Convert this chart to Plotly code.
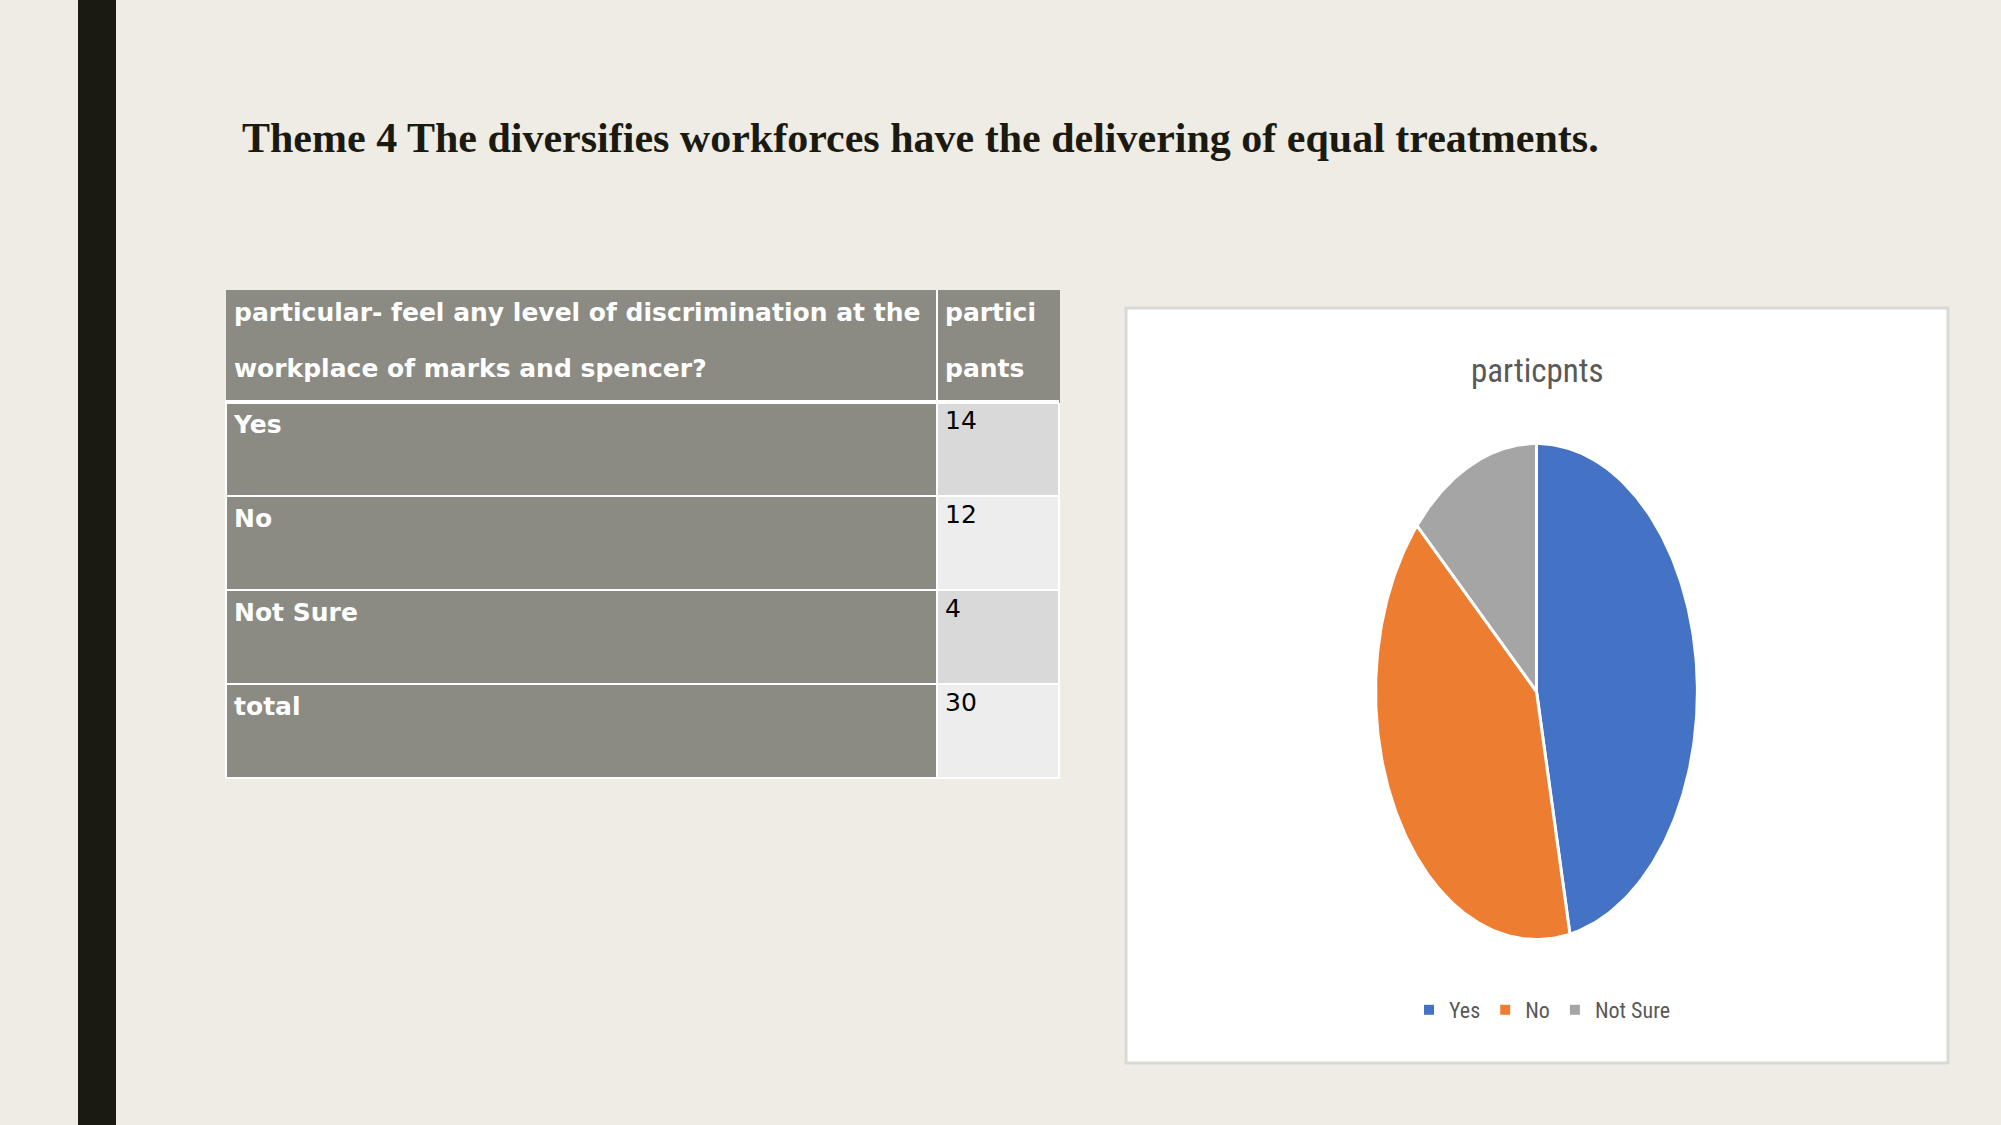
import numpy as np
import plotly.graph_objects as go

# ---- data ----
title_text = "Theme 4 The diversifies workforces have the delivering of equal treatments."
header_question = ["particular- feel any level of discrimination at the", "workplace of marks and spencer?"]
header_count = ["partici", "pants"]
row_labels = ["Yes", "No", "Not Sure", "total"]
row_values = [14, 12, 4, 30]
pie_labels = ["Yes", "No", "Not Sure"]
pie_values = [14, 12, 4]
pie_colors = ["#4472C4", "#ED7D31", "#A5A5A5"]
pie_title = "particpnts"

W, H = 2001, 1125
BG = "#EFECE5"
GRAY = "#8B8B84"

fig = go.Figure()

# ---- table ----
fig.add_trace(go.Table(
    domain=dict(x=[226 / W, 1059 / W], y=[1 - 784 / H, 1 - 290 / H]),
    columnwidth=[711, 122],
    header=dict(
        values=[[f"<b>{t}</b>" for t in header_question], [f"<b>{t}</b>" for t in header_count]],
        fill_color=GRAY,
        line=dict(color=GRAY, width=1),
        align="left",
        height=56,
        font=dict(family="DejaVu Sans", size=25, color="white"),
    ),
    cells=dict(
        values=[[f"<b>{r}</b>" for r in row_labels], [str(v) for v in row_values]],
        fill_color=[[GRAY] * 4, ["#D9D9D9", "#EDEDED", "#D9D9D9", "#EDEDED"]],
        line=dict(color="white", width=2),
        align="left",
        height=94,
        font=dict(family="DejaVu Sans", size=25, color=[["white"] * 4, ["black"] * 4]),
    ),
))

# ---- elliptical pie drawn on stretched axes ----
total = sum(pie_values)
bounds = np.concatenate([[0], np.cumsum(pie_values)]) / total * 2 * np.pi
for i, (lab, col) in enumerate(zip(pie_labels, pie_colors)):
    t = np.linspace(bounds[i], bounds[i + 1], 160)
    xs = np.concatenate([[0], np.sin(t), [0]])
    ys = np.concatenate([[0], np.cos(t), [0]])
    fig.add_trace(go.Scatter(
        x=xs, y=ys, mode="lines", fill="toself", fillcolor=col,
        line=dict(color="white", width=3), hoverinfo="text", text=f"{lab}: {pie_values[i]}",
        showlegend=False, xaxis="x", yaxis="y",
    ))
# legend entries
for lab, col in zip(pie_labels, pie_colors):
    fig.add_trace(go.Scatter(
        x=[None], y=[None], mode="markers", name=lab,
        marker=dict(symbol="square", size=10, color=col), xaxis="x", yaxis="y",
    ))

fig.update_layout(
    width=W, height=H,
    margin=dict(l=0, r=0, t=0, b=0),
    paper_bgcolor=BG, plot_bgcolor="rgba(0,0,0,0)",
    xaxis=dict(domain=[1374 / W, 1699 / W], range=[-1.01, 1.01], visible=False, fixedrange=True),
    yaxis=dict(domain=[1 - 942 / H, 1 - 441 / H], range=[-1.01, 1.01], visible=False, fixedrange=True),
    legend=dict(
        orientation="h", x=1542 / W, y=1 - 1010 / H, xanchor="center", yanchor="middle",
        font=dict(family="Liberation Sans Narrow, Roboto Condensed, Noto Sans", size=22, color="#595959"),
        bgcolor="rgba(0,0,0,0)", itemwidth=30, tracegroupgap=0,
    ),
    shapes=[
        dict(type="rect", xref="paper", yref="paper", x0=78 / W, x1=116 / W, y0=0, y1=1,
             fillcolor="#1B1A10", line=dict(width=0), layer="below"),
        dict(type="rect", xref="paper", yref="paper", x0=1126 / W, x1=1948 / W,
             y0=1 - 1063 / H, y1=1 - 308 / H,
             fillcolor="white", line=dict(color="#D9D9D6", width=3), layer="below"),
        dict(type="line", xref="paper", yref="paper", x0=937 / W, x1=937 / W,
             y0=1 - 401 / H, y1=1 - 290 / H, line=dict(color="white", width=2), layer="above"),
        dict(type="line", xref="paper", yref="paper", x0=226 / W, x1=1059 / W,
             y0=1 - 402 / H, y1=1 - 402 / H, line=dict(color="white", width=4), layer="above"),
    ],
    annotations=[
        dict(text=f"<b>{title_text}</b>", xref="paper", yref="paper", x=240 / W, y=1 - 138 / H,
             xanchor="left", yanchor="middle", showarrow=False,
             font=dict(family="Liberation Serif", size=42, color="#1B1A10")),
        dict(text=pie_title, xref="paper", yref="paper", x=1537 / W, y=1 - 370 / H,
             xanchor="center", yanchor="middle", showarrow=False,
             font=dict(family="Liberation Sans Narrow, Roboto Condensed, Noto Sans", size=33, color="#595959")),
    ],
)

fig.write_html("out.html", config={"displayModeBar": False},
               post_script="document.body.style.margin='0';")
